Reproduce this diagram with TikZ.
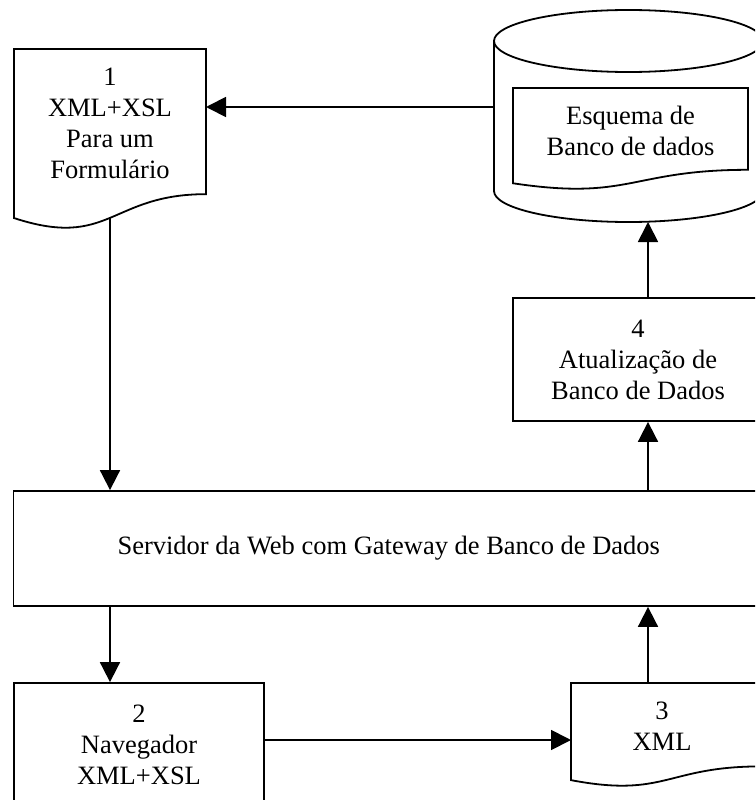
\documentclass[tikz,border=0pt]{standalone}
\usepackage{fontspec}
\setmainfont{Liberation Serif}
\usetikzlibrary{arrows.meta,calc}

\tikzset{
  line/.style={line width=1.8pt, line join=miter},
  box/.style={line, draw, rectangle, inner sep=0pt, align=center},
  frame/.style={rectangle, inner sep=0pt, outer sep=0pt},
  txt/.style={align=center, inner sep=0pt},
  arr/.style={line, -{Triangle[length=20pt,width=20pt]}},
}

% outline of a flowchart "document": straight top and sides, wavy bottom
\newcommand{\docoutline}[1]{%
  \draw[line] (#1.north west) -- (#1.north east)
    -- ($(#1.north east)!0.802!(#1.south east)$)
    .. controls ($(#1.north)!0.802!(#1.south)$) and ($(#1.north)!1.1075!(#1.south)$)
    .. ($(#1.north west)!0.934!(#1.south west)$) -- cycle;}

\begin{document}
\begin{tikzpicture}[x=1pt, y=-1pt, font=\fontsize{26.5}{31}\selectfont]
\useasboundingbox (0,0) rectangle (755,800);
\clip (0,0) rectangle (755,800);

% document 1
\node[frame, minimum width=192pt, minimum height=181pt] (d1) at (110,139.5) {};
\docoutline{d1}
\node[txt] (d1t) at ($(d1.north)!0.41!(d1.south)$) {1\\XML+XSL\\Para um\\Formulário};
\coordinate (d1b) at ($(d1.north)!0.933!(d1.south)$);

% database cylinder
\node[frame, minimum width=269pt, minimum height=212pt] (cyl) at (628.5,116) {};
\draw[line] ([yshift=-31pt]cyl.north) ellipse [x radius=134.5pt, y radius=31pt];
\draw[line] ([yshift=-31pt]cyl.north west) -- ([yshift=31pt]cyl.south west)
  arc[start angle=180, end angle=360, x radius=134.5pt, y radius=31pt]
  -- ([yshift=-31pt]cyl.north east);

% schema document inside the cylinder
\node[frame, minimum width=235pt, minimum height=102pt] (sch) at (630.5,139) {};
\docoutline{sch}
\node[txt] (scht) at ($(sch.north)!0.42!(sch.south)$) {Esquema de\\Banco de dados};

% update box
\node[box, minimum width=250pt, minimum height=123pt] (b4) at (638,359.5)
  {4\\Atualização de\\Banco de Dados};

% web server
\node[box, minimum width=750.5pt, minimum height=115pt] (srv) at (388.75,548.5)
  {Servidor da Web com Gateway de Banco de Dados};

% browser
\node[box, minimum width=250pt, minimum height=124pt] (b2) at (139,745)
  {2\\Navegador\\XML+XSL};

% document 3
\node[frame, minimum width=190pt, minimum height=104pt] (d3) at (666,735) {};
\docoutline{d3}
\node[txt] (d3t) at ([xshift=-4pt]$(d3.north)!0.42!(d3.south)$) {3\\XML};

% connectors
\coordinate (cl) at ([yshift=9pt]cyl.west);
\coordinate (ax) at ([xshift=10pt]b4.center);
\coordinate (ay) at ([yshift=5pt]b2.east);

\draw[arr] (cl) -- (cl -| d1.east);
\draw[arr] (d1b) -- (d1b |- srv.north);
\draw[arr] (d1b |- srv.south) -- (d1b |- b2.north);
\draw[arr] (ay) -- (ay -| d3.west);
\draw[arr] (ax |- d3.north) -- (ax |- srv.south);
\draw[arr] (ax |- srv.north) -- (ax |- b4.south);
\draw[arr] (ax |- b4.north) -- (ax |- cyl.south);
\end{tikzpicture}
\end{document}
